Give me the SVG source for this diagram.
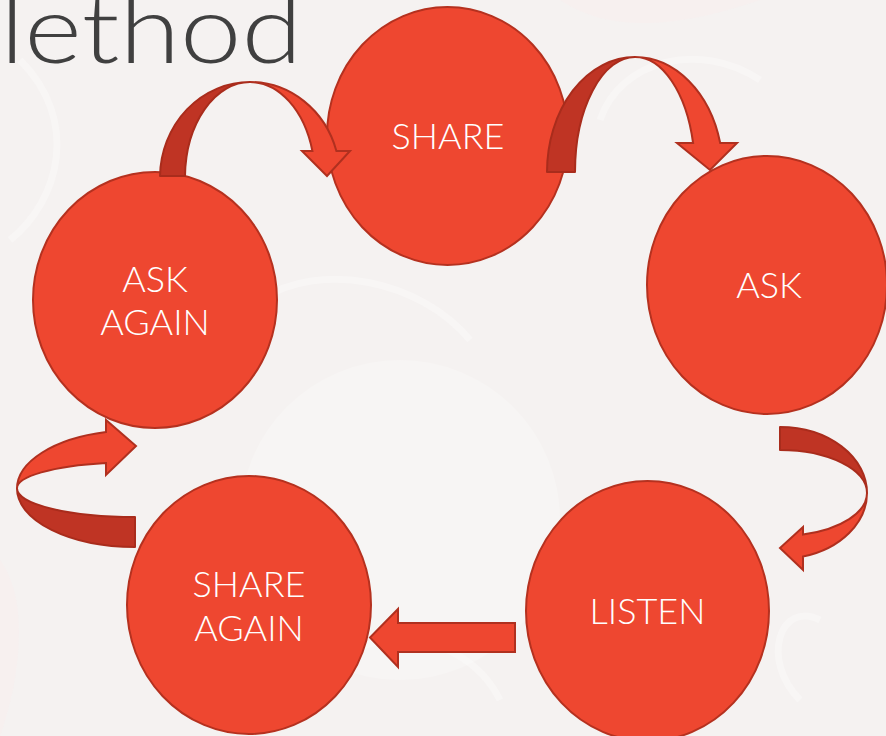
<svg xmlns="http://www.w3.org/2000/svg" width="886" height="736" viewBox="0 0 886 736">
  <defs>
    <style>
      .node { fill: #ee4730; stroke: #b5311f; stroke-width: 2; }
      .label { font-family: Lato, "Open Sans", "Liberation Sans", sans-serif; font-weight: 300; font-size: 36px; fill: #ffffff; text-anchor: middle; }
      .back { fill: #bf3424; stroke: #a92c1c; stroke-width: 2; stroke-linejoin: round; }
      .front { fill: #ee4730; stroke: #b0301f; stroke-width: 2; stroke-linejoin: miter; }
      .swirl { fill: none; stroke: #ffffff; stroke-width: 7; opacity: 0.3; }
      .tint { fill: #f9eeef; opacity: 0.6; }
    </style>
  </defs>

  <!-- page background with faint ornamental swirls -->
  <rect width="886" height="736" fill="#f5f2f1"/>
  <g id="backdrop">
    <circle cx="400" cy="520" r="160" fill="#f7f5f4"/>
    <path class="tint" d="M560 0 C620 40 700 20 760 0 Z"/>
    <path class="tint" d="M0 560 C30 600 20 680 0 736 Z"/>
    <path class="swirl" d="M20 60 C80 120 60 200 10 240"/>
    <path class="swirl" d="M260 300 C320 260 420 280 470 340"/>
    <path class="swirl" d="M600 120 C620 60 700 40 760 80"/>
    <path class="swirl" d="M300 700 C340 620 460 620 500 700"/>
    <path class="swirl" d="M820 620 C780 600 760 660 800 700"/>
  </g>

  <!-- heading -->
  <text id="heading" x="0" y="63" transform="scale(1.16 1)" font-family="Lato, 'Open Sans', 'Liberation Sans', sans-serif" font-weight="300" font-size="95" fill="#404040">lethod</text>

  <!-- steps of the cycle -->
  <g id="share">
    <ellipse class="node" cx="447.5" cy="136" rx="120.5" ry="129"/>
    <text class="label" x="448" y="149">SHARE</text>
  </g>
  <g id="ask">
    <ellipse class="node" cx="767" cy="285" rx="120" ry="129"/>
    <text class="label" x="769" y="298">ASK</text>
  </g>
  <g id="listen">
    <ellipse class="node" cx="647.5" cy="611" rx="121.5" ry="130"/>
    <text class="label" x="647.5" y="624">LISTEN</text>
  </g>
  <g id="share-again">
    <ellipse class="node" cx="249" cy="605" rx="122" ry="129"/>
    <text class="label" x="249" y="597">SHARE</text>
    <text class="label" x="249" y="641">AGAIN</text>
  </g>
  <g id="ask-again">
    <ellipse class="node" cx="155" cy="300" rx="122" ry="128"/>
    <text class="label" x="155" y="292">ASK</text>
    <text class="label" x="155" y="335">AGAIN</text>
  </g>

  <!-- connectors: ribbon arrows drawn over the circles -->
  <g id="connectors">
    <!-- ask again -> share -->
    <g id="arrow-askagain-share">
      <path class="back" d="M160 176 A90 96 0 0 1 250 82 A65 96 0 0 0 185 176 Z"/>
      <path class="front" d="M250 82 A90 96 0 0 1 336.4 151 L350 151 L327 176 L302 151 L312.4 151 A65 96 0 0 0 250 82 Z"/>
    </g>
    <!-- share -> ask -->
    <g id="arrow-share-ask">
      <path class="back" d="M547 172 A88 115 0 0 1 635 57 A60 115 0 0 0 575 172 Z"/>
      <path class="front" d="M635 57 A88 115 0 0 1 720.2 143 L737 143 L710 170 L677 143 L693.1 143 A60 115 0 0 0 635 57 Z"/>
    </g>
    <!-- ask -> listen -->
    <g id="arrow-ask-listen">
      <path class="back" d="M780 427 A87 66 0 0 1 867 493 A87 43 0 0 0 780 450 Z"/>
      <path class="front" d="M867 493 A87 66 0 0 1 803 556.6 L803 570 L780 548 L803 527 L803 534.5 A87 43 0 0 0 867 493 Z"/>
    </g>
    <!-- listen -> share again -->
    <g id="arrow-listen-shareagain">
      <path class="front" d="M515 623 L398 623 L398 609 L370 637.5 L398 667 L398 652 L515 652 Z"/>
    </g>
    <!-- share again -> ask again -->
    <g id="arrow-shareagain-askagain">
      <path class="back" d="M135 547 A118 58.4 0 0 1 17 488.6 A118 28.4 0 0 0 135 517 Z"/>
      <path class="front" d="M17 488.6 A118 58.4 0 0 1 106 432 L106 420 L136 446 L106 475 L106 463 A118 26 0 0 0 17 488.6 Z"/>
    </g>
  </g>
</svg>
